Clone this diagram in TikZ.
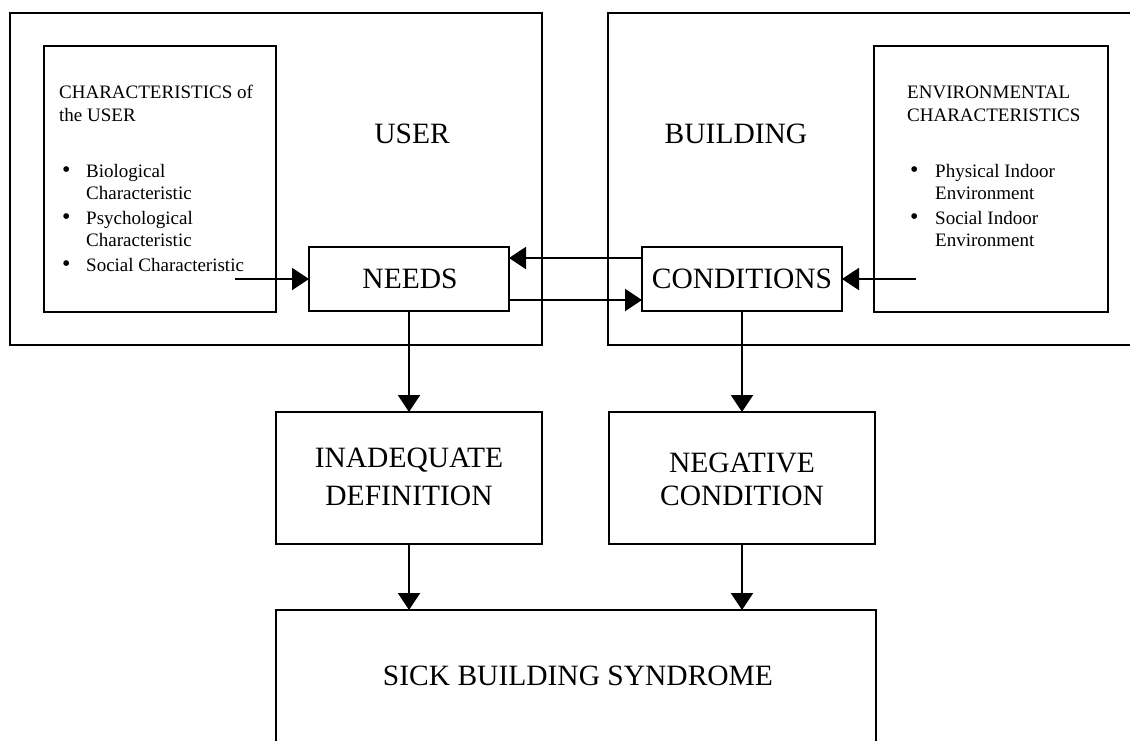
\documentclass[tikz,border=0pt]{standalone}
\usepackage{fontspec}
\setmainfont{Liberation Serif}
\usetikzlibrary{arrows.meta}
\begin{document}
\begin{tikzpicture}[x=1pt,y=-1pt,
 box/.style={draw, line width=2pt, inner sep=0pt, outer sep=0pt, rectangle},
 big/.style={font=\fontsize{29.5}{34}\selectfont, inner sep=0pt, anchor=base},
 small/.style={font=\fontsize{19}{23}\selectfont, inner sep=0pt, anchor=base west},
 bul/.style={font=\fontsize{24}{23}\selectfont, inner sep=0pt, anchor=base west},
 arr/.style={line width=2pt, -{Triangle[length=17pt,width=22pt]}},
]
\useasboundingbox (0,0) rectangle (1130,740);
\clip (0,0) rectangle (1130,740);
\fill[white] (0,0) rectangle (1130,740);

% boxes
\node[box, minimum width=532pt, minimum height=332pt] (user) at (276,179) {};
\node[box, minimum width=232pt, minimum height=266pt] (charbox) at (160,179) {};
\node[box, minimum width=200pt, minimum height=64pt] (needs) at (409,279) {};
\node[box, minimum width=532pt, minimum height=332pt] (building) at (874,179) {};
\node[box, minimum width=234pt, minimum height=266pt] (envbox) at (991,179) {};
\node[box, minimum width=200pt, minimum height=64pt] (cond) at (742,279) {};
\node[box, minimum width=266pt, minimum height=132pt] (inad) at (409,478) {};
\node[box, minimum width=266pt, minimum height=132pt] (neg) at (742,478) {};
\node[box, minimum width=600pt, minimum height=150pt] (sick) at (576,685) {};

% big texts
\node[big] (tuser) at (412,143) {USER};
\node[big] (tbuilding) at (736,143) {BUILDING};
\node[big] (tneeds) at (410,288) {NEEDS};
\node[big] (tcond) at (742,288) {CONDITIONS};
\node[big] (tinad1) at (409,467) {INADEQUATE};
\node[big] (tinad2) at (409,505) {DEFINITION};
\node[big] (tneg1) at (742,472) {NEGATIVE};
\node[big] (tneg2) at (742,505) {CONDITION};
\node[big] (tsick) at (578,685) {SICK BUILDING SYNDROME};

% left list
\node[small] (c1) at (59,98) {CHARACTERISTICS of};
\node[small] (c2) at (59,121) {the USER};
\node[bul] (b1) at (62,177) {\textbullet};
\node[small] (l1a) at (86,177) {Biological};
\node[small] (l1b) at (86,199) {Characteristic};
\node[bul] (b2) at (62,224) {\textbullet};
\node[small] (l2a) at (86,224) {Psychological};
\node[small] (l2b) at (86,246) {Characteristic};
\node[bul] (b3) at (62,271) {\textbullet};
\node[small] (l3a) at (86,271) {Social Characteristic};

% right list
\node[small] (e1) at (907,98) {ENVIRONMENTAL};
\node[small] (e2) at (907,121) {CHARACTERISTICS};
\node[bul] (b4) at (910,177) {\textbullet};
\node[small] (r1a) at (935,177) {Physical Indoor};
\node[small] (r1b) at (935,199) {Environment};
\node[bul] (b5) at (910,224) {\textbullet};
\node[small] (r2a) at (935,224) {Social Indoor};
\node[small] (r2b) at (935,246) {Environment};

% connectors
\coordinate (socend) at (235,279);
\coordinate (envend) at (916,279);
\draw[arr] (socend) -- (needs.west);
\draw[arr] (envend) -- (cond.east);
\draw[arr] ([yshift=21pt]cond.west) -- ([yshift=21pt]needs.east);
\draw[arr] ([yshift=-21pt]needs.east) -- ([yshift=-21pt]cond.west);
\draw[arr] (needs.south) -- (inad.north);
\draw[arr] (cond.south) -- (neg.north);
\draw[arr] (inad.south) -- (inad.south |- sick.north);
\draw[arr] (neg.south) -- (neg.south |- sick.north);
\end{tikzpicture}
\end{document}
